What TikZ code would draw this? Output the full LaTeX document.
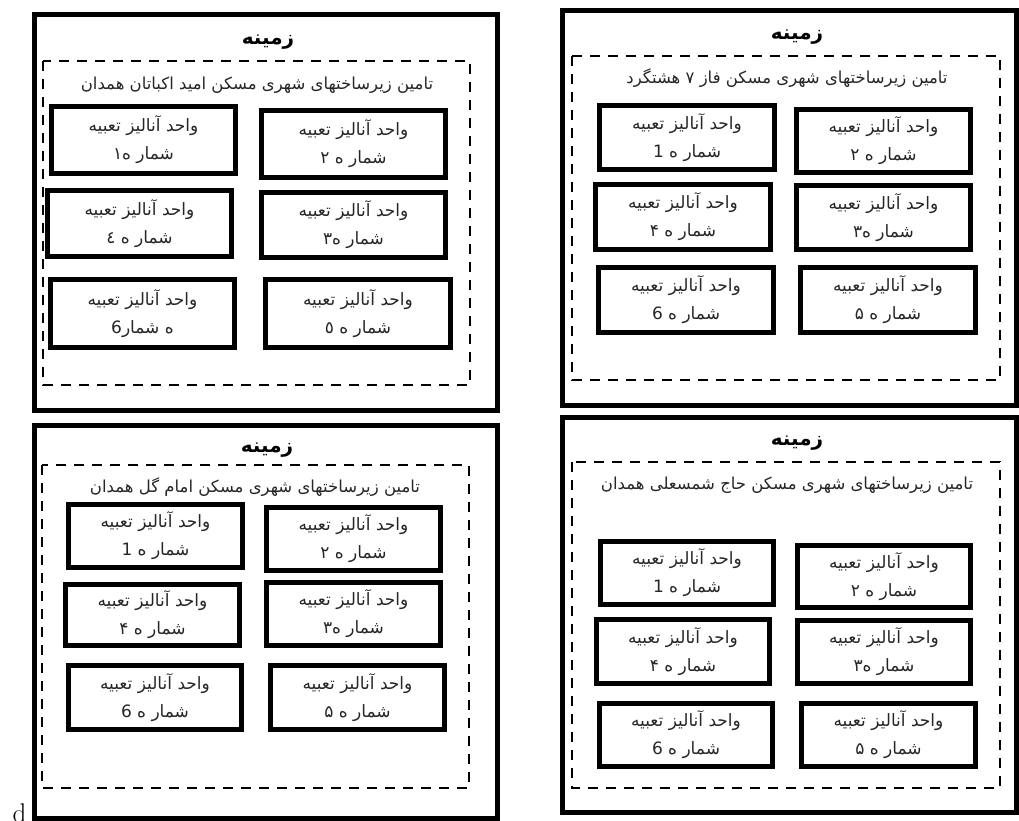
\documentclass[tikz,border=0pt]{standalone}
\usepackage{fontspec}
\TeXXeTstate=1
\newfontfamily\arfont[Script=Arabic]{DejaVu Sans}
\newcommand\unitlines[1]{\beginR واحد آنالیز تعبیه\endR\\\beginR #1\endR}
\tikzset{
  outerframe/.style={draw=black, line width=5pt},
  dashframe/.style={draw=black, line width=2.5pt, dash pattern=on 10pt off 8pt},
  unitbox/.style={draw=black, line width=5pt, align=center, inner sep=0pt,
    text=black!85, font=\arfont\fontsize{17}{28}\selectfont},
  titletext/.style={inner sep=0pt, text=black, font=\arfont\bfseries\fontsize{20}{22}\selectfont},
  subtext/.style={inner sep=0pt, text=black!85, font=\arfont\fontsize{16.5}{19}\selectfont},
}
\begin{document}
\begin{tikzpicture}[x=1pt,y=-1pt]
\useasboundingbox (0,0) rectangle (1019,821);
% ---------- panel 1 (top left)
\draw[outerframe] (34,15) rectangle (497,410);
\draw[dashframe] (43,61) rectangle (470,385);
\node[titletext] (t1) at (268,42) {\beginR زمینه\endR};
\node[subtext] (s1) at (257,85) {\beginR تامین زیرساختهای شهری مسکن امید اکباتان همدان\endR};
\node[unitbox, minimum width=184pt, minimum height=67pt] (p1b1) at (143.5,140) {\unitlines{شمار ه١}};
\node[unitbox, minimum width=184pt, minimum height=67pt] (p1b2) at (353.5,144) {\unitlines{شمار ه ٢}};
\node[unitbox, minimum width=184pt, minimum height=66pt] (p1b4) at (139.5,223.5) {\unitlines{شمار ه ٤}};
\node[unitbox, minimum width=184pt, minimum height=65pt] (p1b3) at (353.5,225) {\unitlines{شمار ه٣}};
\node[unitbox, minimum width=184pt, minimum height=68pt] (p1b6) at (142.5,313.5) {\unitlines{ه شمار6}};
\node[unitbox, minimum width=185pt, minimum height=68pt] (p1b5) at (358,313.5) {\unitlines{شمار ه ٥}};
% ---------- panel 2 (top right)
\draw[outerframe] (562,11) rectangle (1016,405);
\draw[dashframe] (572,56) rectangle (1000,380);
\node[titletext] (t2) at (797,37) {\beginR زمینه\endR};
\node[subtext] (s2) at (787,78) {\beginR تامین زیرساختهای شهری مسکن فاز ۷ هشتگرد\endR};
\node[unitbox, minimum width=175pt, minimum height=64pt] (p2b1) at (687,137.5) {\unitlines{شمار ه 1}};
\node[unitbox, minimum width=174pt, minimum height=63pt] (p2b2) at (883.5,141) {\unitlines{شمار ه ۲}};
\node[unitbox, minimum width=175pt, minimum height=65pt] (p2b4) at (683,217) {\unitlines{شمار ه ۴}};
\node[unitbox, minimum width=174pt, minimum height=64pt] (p2b3) at (883.5,217.5) {\unitlines{شمار ه۳}};
\node[unitbox, minimum width=175pt, minimum height=65pt] (p2b6) at (686,300) {\unitlines{شمار ه 6}};
\node[unitbox, minimum width=175pt, minimum height=65pt] (p2b5) at (888,300) {\unitlines{شمار ه ۵}};
% ---------- panel 3 (bottom left)
\draw[outerframe] (34,425) rectangle (497,818);
\draw[dashframe] (42,465) rectangle (469,788);
\node[titletext] (t3) at (267,450) {\beginR زمینه\endR};
\node[subtext] (s3) at (255,487) {\beginR تامین زیرساختهای شهری مسکن امام گل همدان\endR};
\node[unitbox, minimum width=174pt, minimum height=63pt] (p3b1) at (155.5,536) {\unitlines{شمار ه 1}};
\node[unitbox, minimum width=174pt, minimum height=63pt] (p3b2) at (353.5,539) {\unitlines{شمار ه ۲}};
\node[unitbox, minimum width=174pt, minimum height=61pt] (p3b4) at (152.5,615) {\unitlines{شمار ه ۴}};
\node[unitbox, minimum width=174pt, minimum height=63pt] (p3b3) at (353.5,614) {\unitlines{شمار ه۳}};
\node[unitbox, minimum width=173pt, minimum height=64pt] (p3b6) at (155,697.5) {\unitlines{شمار ه 6}};
\node[unitbox, minimum width=174pt, minimum height=64pt] (p3b5) at (357.5,697.5) {\unitlines{شمار ه ۵}};
\node[anchor=base, inner sep=0pt, font=\fontsize{27}{29}\selectfont] (dl) at (19.5,822) {d};
% ---------- panel 4 (bottom right)
\draw[outerframe] (562,417) rectangle (1016,812);
\draw[dashframe] (572,462) rectangle (1000,788);
\node[titletext] (t4) at (797,443) {\beginR زمینه\endR};
\node[subtext] (s4) at (787,485) {\beginR تامین زیرساختهای شهری مسکن حاج شمسعلی همدان\endR};
\node[unitbox, minimum width=173pt, minimum height=63pt] (p4b1) at (687,573) {\unitlines{شمار ه 1}};
\node[unitbox, minimum width=173pt, minimum height=62pt] (p4b2) at (884,576.5) {\unitlines{شمار ه ۲}};
\node[unitbox, minimum width=173pt, minimum height=64pt] (p4b4) at (683,651.5) {\unitlines{شمار ه ۴}};
\node[unitbox, minimum width=173pt, minimum height=63pt] (p4b3) at (884,652) {\unitlines{شمار ه۳}};
\node[unitbox, minimum width=173pt, minimum height=63pt] (p4b6) at (686,735) {\unitlines{شمار ه 6}};
\node[unitbox, minimum width=174pt, minimum height=63pt] (p4b5) at (888.5,735) {\unitlines{شمار ه ۵}};
\end{tikzpicture}
\end{document}
